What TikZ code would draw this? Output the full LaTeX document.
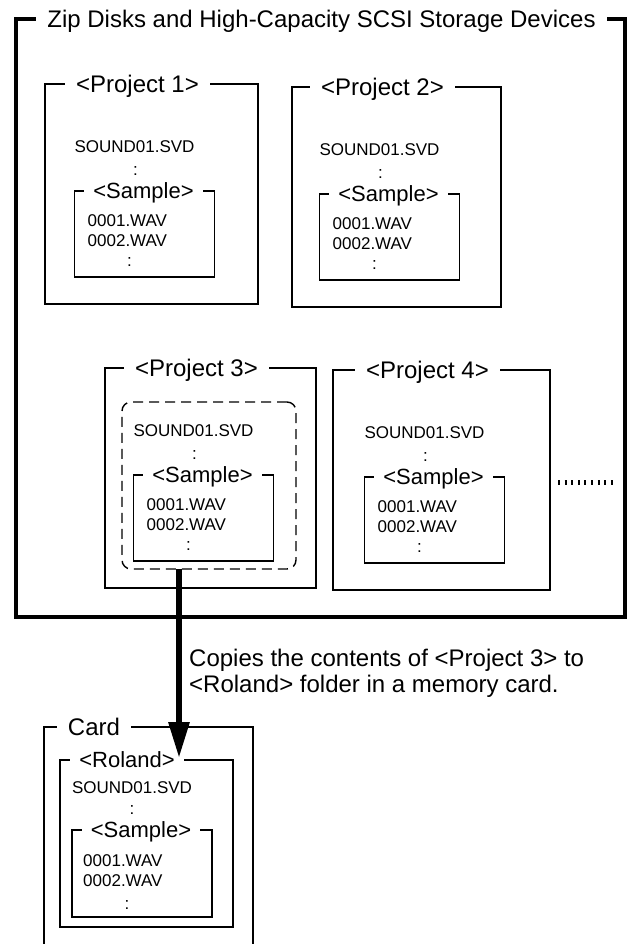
\documentclass[tikz,border=0pt]{standalone}
\usepackage{fontspec}
\setmainfont{Liberation Sans}
\usetikzlibrary{arrows.meta}

\begin{document}
\begin{tikzpicture}[x = 1pt, y = -1pt,
        box/.style 2 args = {draw, line width = 1.4pt, minimum width = #1, minimum height = #2, anchor = north west, inner sep = 0pt, outer sep = 0pt},
        head/.style = {fill = white, inner xsep = 11pt, inner ysep = 0pt, anchor = base, yshift = -8.6pt, font = \fontsize{24}{28}\selectfont},
        subhead/.style = {fill = white, inner xsep = 9pt, inner ysep = 0pt, anchor = base, yshift = -7.9pt, font = \fontsize{22}{26}\selectfont},
        entry/.style = {inner sep = 0pt, anchor = base west, yshift = -6.1pt, font = \fontsize{17}{20}\selectfont},
        colon/.style = {inner sep = 0pt, anchor = center, font = \fontsize{17}{20}\selectfont}]
    \useasboundingbox (0, 0) rectangle (631, 944);

    \node[box = {609pt}{598pt}, line width = 4.5pt] (zip) at (16, 19) {};
    \node[head] (zip-t) at (321.5, 19) {Zip Disks and High-Capacity SCSI Storage Devices};

    \foreach \pn/\px/\py/\pw in {1/45/84/213, 2/292/87/209, 3/105/368/211, 4/333/370/217} {
        \pgfmathsetmacro\pc{\px + \pw/2}
        \node[box = {\pw pt}{220pt}] (prj\pn) at (\px, \py) {};
        \node[head] (prj\pn-t) at (\pc - 14, \py) {<Project \pn>};
        \node[box = {140pt}{86pt}] (smp\pn) at (\pc - 77, \py + 107) {};
        \node[subhead] (smp\pn-t) at (\pc - 8, \py + 107) {<Sample>};
        \node[entry, anchor = base] (svd\pn) at (\pc - 17, \py + 62) {SOUND01.SVD};
        \node[colon] (svd\pn-c) at (\pc - 16, \py + 87) {:};
        \node[entry] (wav\pn-a) at (\pc - 64, \py + 136) {0001.WAV};
        \node[entry] (wav\pn-b) at (\pc - 64, \py + 156) {0002.WAV};
        \node[colon] (wav\pn-c) at (\pc - 22, \py + 178) {:};
    }

    \node[box = {174pt}{167pt}, dash pattern = on 10pt off 6pt, rounded corners = 9pt] (copy) at (122, 402) {};
    \draw[line width = 5pt, dash pattern = on 2pt off 4.6pt] (558, 482) -- (614, 482);

    \node[entry, yshift = -8.6pt, font = \fontsize{24}{28}\selectfont] (cap1) at (189, 652) {Copies the contents of <Project 3> to};
    \node[entry, yshift = -8.6pt, font = \fontsize{24}{28}\selectfont] (cap2) at (189, 678) {<Roland> folder in a memory card.};

    \draw[line width = 1.4pt] (44, 944) |- (253, 727) -- (253, 944);
    \node[head] (card-t) at (94, 727) {Card};
    \node[box = {173pt}{167pt}] (rol) at (60, 760) {};
    \node[subhead] (rol-t) at (127, 760) {<Roland>};
    \node[entry, anchor = base] (svd5) at (132, 787) {SOUND01.SVD};
    \node[colon] (svd5-c) at (132, 810) {:};
    \node[box = {140pt}{87pt}] (smp5) at (72, 830) {};
    \node[subhead] (smp5-t) at (141, 830) {<Sample>};
    \node[entry] (wav5-a) at (83, 860) {0001.WAV};
    \node[entry] (wav5-b) at (83, 880) {0002.WAV};
    \node[colon] (wav5-c) at (127, 905) {:};

    \coordinate (tip) at (179, 758);
    \draw[line width = 6pt, -{Triangle[width = 20pt, length = 36pt]}] (copy.south -| tip) -- (tip);
\end{tikzpicture}
\end{document}
